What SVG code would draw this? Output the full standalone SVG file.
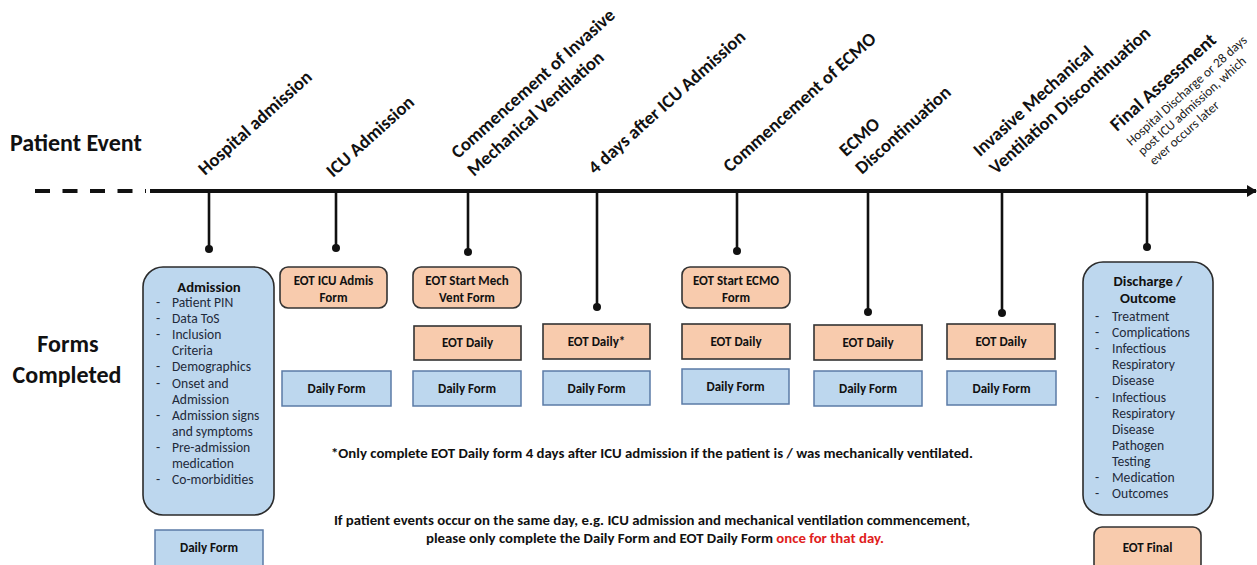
<svg xmlns="http://www.w3.org/2000/svg" width="1257" height="565" viewBox="0 0 1257 565">
<defs>
<style>
text{font-family:Carlito,Lato,"Liberation Sans",sans-serif;fill:#111}
.ev{font-size:18.5px;font-weight:bold}
.fa{font-size:19px;font-weight:bold}
.sub{font-size:13.2px;fill:#222}
.hd{font-size:24px;font-weight:bold}
.lbl{font-size:13px;font-weight:bold;text-anchor:middle}
.ttl{font-size:14.7px;font-weight:bold;text-anchor:middle}
.li{font-size:13.6px;fill:#1f2a3a}
.note{font-size:14.8px;font-weight:bold;text-anchor:middle}
.blue{fill:#bdd7ee;stroke:#5b7ba6;stroke-width:1.5}
.bluer{fill:#bdd7ee;stroke:#2b2b2b;stroke-width:1.6}
.peach{fill:#f8cbad;stroke:#333;stroke-width:1.6}
.tick{stroke:#111;stroke-width:2.6}
.dot{fill:#111}
</style>
<marker id="ah" viewBox="0 0 10 12" refX="9" refY="6" markerWidth="10" markerHeight="12" markerUnits="userSpaceOnUse" orient="auto">
<path d="M0,0 L10,6 L0,12 z" fill="#111"/>
</marker>
</defs>
<rect width="1257" height="565" fill="#fff"/>

<g id="headings">
<text class="hd" x="10" y="151">Patient Event</text>
<text class="hd" x="68" y="352" text-anchor="middle">Forms</text>
<text class="hd" x="67" y="383" text-anchor="middle">Completed</text>
</g>

<g id="connectors">
<line x1="35" y1="191" x2="146" y2="191" stroke="#111" stroke-width="4" stroke-dasharray="15,12.5"/>
<line x1="150" y1="191" x2="1256" y2="191" stroke="#111" stroke-width="4" marker-end="url(#ah)"/>
<line class="tick" x1="209" y1="191" x2="209" y2="249"/><circle class="dot" cx="209" cy="249" r="4"/>
<line class="tick" x1="336" y1="191" x2="336" y2="248"/><circle class="dot" cx="336" cy="248" r="4"/>
<line class="tick" x1="468" y1="191" x2="468" y2="252"/><circle class="dot" cx="468" cy="252" r="4"/>
<line class="tick" x1="597" y1="191" x2="597" y2="307"/><circle class="dot" cx="597" cy="307" r="4"/>
<line class="tick" x1="737" y1="191" x2="737" y2="251"/><circle class="dot" cx="737" cy="251" r="4"/>
<line class="tick" x1="868" y1="191" x2="868" y2="312"/><circle class="dot" cx="868" cy="312" r="4"/>
<line class="tick" x1="1002" y1="191" x2="1002" y2="313"/><circle class="dot" cx="1002" cy="313" r="4"/>
<line class="tick" x1="1147" y1="191" x2="1147" y2="247"/><circle class="dot" cx="1147" cy="247" r="4"/>
</g>

<g id="event-hospital-admission"><text class="ev" transform="translate(205,176) rotate(-42)">Hospital admission</text></g>
<g id="event-icu-admission"><text class="ev" transform="translate(333,178) rotate(-42)">ICU Admission</text></g>
<g id="event-imv-start"><text class="ev" transform="translate(474,177) rotate(-42)"><tspan x="0" y="-24">Commencement of Invasive</tspan><tspan x="0" y="0">Mechanical Ventilation</tspan></text></g>
<g id="event-4days"><text class="ev" transform="translate(595,175) rotate(-42)">4 days after ICU Admission</text></g>
<g id="event-ecmo-start"><text class="ev" transform="translate(730,173) rotate(-42)">Commencement of ECMO</text></g>
<g id="event-ecmo-stop"><text class="ev" transform="translate(862,175) rotate(-42)"><tspan x="0" y="-24">ECMO</tspan><tspan x="0" y="0">Discontinuation</tspan></text></g>
<g id="event-imv-stop"><text class="ev" transform="translate(996,175) rotate(-42)"><tspan x="0" y="-24">Invasive Mechanical</tspan><tspan x="0" y="0">Ventilation Discontinuation</tspan></text></g>
<g id="event-final"><g transform="translate(1117,132) rotate(-42)">
<text class="fa" x="0" y="0">Final Assessment</text>
<text class="sub" x="1" y="20">Hospital Discharge or 28 days</text>
<text class="sub" x="3" y="35">post ICU admission, which</text>
<text class="sub" x="5" y="50">ever occurs later</text>
</g></g>

<g id="admission">
<rect class="bluer" x="143" y="267" width="131" height="248" rx="20"/>
<text class="ttl" x="209" y="292">Admission</text>
<text class="li" x="156" y="307">-</text><text class="li" x="172" y="307">Patient PIN</text>
<text class="li" x="156" y="323">-</text><text class="li" x="172" y="323">Data ToS</text>
<text class="li" x="156" y="339">-</text><text class="li" x="172" y="339">Inclusion</text>
<text class="li" x="172" y="355">Criteria</text>
<text class="li" x="156" y="371">-</text><text class="li" x="172" y="371">Demographics</text>
<text class="li" x="156" y="388">-</text><text class="li" x="172" y="388">Onset and</text>
<text class="li" x="172" y="404">Admission</text>
<text class="li" x="156" y="420">-</text><text class="li" x="172" y="420">Admission signs</text>
<text class="li" x="172" y="436">and symptoms</text>
<text class="li" x="156" y="452">-</text><text class="li" x="172" y="452">Pre-admission</text>
<text class="li" x="172" y="468">medication</text>
<text class="li" x="156" y="484">-</text><text class="li" x="172" y="484">Co-morbidities</text>
</g>
<g id="daily-hosp"><rect class="blue" x="155" y="530" width="108" height="40"/><text class="lbl" x="209" y="552">Daily Form</text></g>

<g id="eot-icu"><rect class="peach" x="280" y="267" width="107" height="41" rx="8"/><text class="lbl" x="333.5" y="285">EOT ICU Admis</text><text class="lbl" x="333.5" y="302">Form</text></g>
<g id="daily-icu"><rect class="blue" x="282" y="371" width="109" height="35"/><text class="lbl" x="336.5" y="393">Daily Form</text></g>

<g id="eot-mv"><rect class="peach" x="413" y="267" width="108" height="41" rx="8"/><text class="lbl" x="467" y="285">EOT Start Mech</text><text class="lbl" x="467" y="302">Vent Form</text></g>
<g id="eotdaily-mv"><rect class="peach" x="414" y="326" width="107" height="34"/><text class="lbl" x="467.5" y="347">EOT Daily</text></g>
<g id="daily-mv"><rect class="blue" x="413" y="371" width="108" height="35"/><text class="lbl" x="467" y="393">Daily Form</text></g>

<g id="eotdaily-4d"><rect class="peach" x="543" y="324" width="107" height="35"/><text class="lbl" x="596.5" y="346">EOT Daily*</text></g>
<g id="daily-4d"><rect class="blue" x="543" y="371" width="107" height="34"/><text class="lbl" x="596.5" y="393">Daily Form</text></g>

<g id="eot-ecmo"><rect class="peach" x="682" y="267" width="108" height="41" rx="8"/><text class="lbl" x="736" y="285">EOT Start ECMO</text><text class="lbl" x="736" y="302">Form</text></g>
<g id="eotdaily-ecmo"><rect class="peach" x="682" y="324" width="108" height="35"/><text class="lbl" x="736" y="346">EOT Daily</text></g>
<g id="daily-ecmo"><rect class="blue" x="682" y="369" width="107" height="35"/><text class="lbl" x="735.5" y="391">Daily Form</text></g>

<g id="eotdaily-ecmostop"><rect class="peach" x="814" y="325" width="108" height="35"/><text class="lbl" x="868" y="347">EOT Daily</text></g>
<g id="daily-ecmostop"><rect class="blue" x="814" y="371" width="108" height="35"/><text class="lbl" x="868" y="393">Daily Form</text></g>

<g id="eotdaily-imvstop"><rect class="peach" x="947" y="324" width="108" height="35"/><text class="lbl" x="1001" y="346">EOT Daily</text></g>
<g id="daily-imvstop"><rect class="blue" x="947" y="371" width="109" height="34"/><text class="lbl" x="1001.5" y="393">Daily Form</text></g>

<g id="discharge">
<rect class="bluer" x="1083" y="262" width="130" height="253" rx="20"/>
<text class="ttl" x="1148" y="286">Discharge /</text>
<text class="ttl" x="1148" y="303">Outcome</text>
<text class="li" x="1095" y="321">-</text><text class="li" x="1112" y="321">Treatment</text>
<text class="li" x="1095" y="337">-</text><text class="li" x="1112" y="337">Complications</text>
<text class="li" x="1095" y="353">-</text><text class="li" x="1112" y="353">Infectious</text>
<text class="li" x="1112" y="369">Respiratory</text>
<text class="li" x="1112" y="385">Disease</text>
<text class="li" x="1095" y="402">-</text><text class="li" x="1112" y="402">Infectious</text>
<text class="li" x="1112" y="418">Respiratory</text>
<text class="li" x="1112" y="434">Disease</text>
<text class="li" x="1112" y="450">Pathogen</text>
<text class="li" x="1112" y="466">Testing</text>
<text class="li" x="1095" y="482">-</text><text class="li" x="1112" y="482">Medication</text>
<text class="li" x="1095" y="498">-</text><text class="li" x="1112" y="498">Outcomes</text>
</g>
<g id="eot-final"><rect class="peach" x="1094" y="527" width="107" height="45" rx="8"/><text class="lbl" x="1147.5" y="552">EOT Final</text></g>

<g id="notes">
<text class="note" x="652" y="458">*Only complete EOT Daily form 4 days after ICU admission if the patient is / was mechanically ventilated.</text>
<text class="note" x="652" y="525">If patient events occur on the same day, e.g. ICU admission and mechanical ventilation commencement,</text>
<text class="note" x="655" y="543">please only complete the Daily Form and EOT Daily Form <tspan fill="#e0201c">once for that day.</tspan></text>
</g>
</svg>
